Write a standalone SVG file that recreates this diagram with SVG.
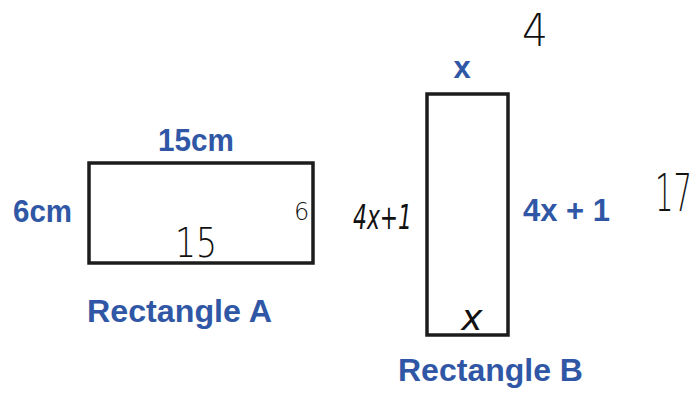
<svg xmlns="http://www.w3.org/2000/svg" width="698" height="398" viewBox="0 0 698 398">
<style>
.shape{fill:none;stroke:#1c1c1c;stroke-width:3.5}
.lbl{font-family:"Liberation Sans",Arial,sans-serif;font-weight:bold;fill:#3057a6;font-size:31px}
.hw{font-family:"DejaVu Sans","Liberation Sans",sans-serif;font-weight:200;fill:#111}
</style>
<rect width="698" height="398" fill="#ffffff"/>
<g id="rectA">
<rect class="shape" x="89" y="163" width="224" height="100"/>
<text class="lbl" x="158" y="151" textLength="76" lengthAdjust="spacingAndGlyphs">15cm</text>
<text class="lbl" x="13" y="222" textLength="59" lengthAdjust="spacingAndGlyphs">6cm</text>
<text class="lbl" x="87" y="322" textLength="185" lengthAdjust="spacingAndGlyphs">Rectangle A</text>
<text class="hw" x="175" y="257" font-size="40" textLength="42" lengthAdjust="spacingAndGlyphs">15</text>
<text class="hw" x="294" y="220" font-size="24">6</text>
</g>
<g id="rectB">
<rect class="shape" x="427" y="94" width="81" height="241"/>
<text class="lbl" x="462" y="78" text-anchor="middle">x</text>
<text class="lbl" x="523" y="221" textLength="87" lengthAdjust="spacingAndGlyphs">4x + 1</text>
<text class="lbl" x="398" y="381" textLength="185" lengthAdjust="spacingAndGlyphs">Rectangle B</text>
<text class="hw" x="353" y="229" font-size="34" font-style="italic" textLength="59" lengthAdjust="spacingAndGlyphs">4x+1</text>
<text class="hw" x="472" y="330" text-anchor="middle" font-size="36" font-style="italic">x</text>
</g>
<g id="notes">
<text class="hw" x="522" y="46" font-size="44" textLength="26" lengthAdjust="spacingAndGlyphs">4</text>
<text class="hw" transform="translate(655,211) scale(1,1.8)" font-size="29">17</text>
</g>
<g id="connectors"></g>
</svg>
